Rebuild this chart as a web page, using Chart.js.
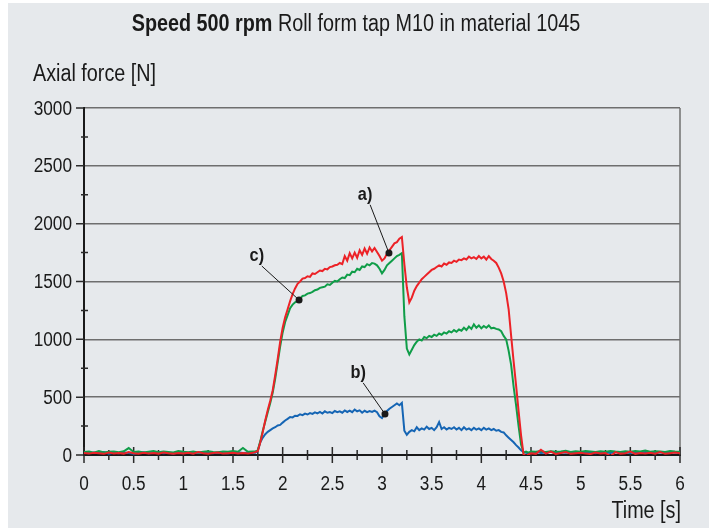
<!DOCTYPE html>
<html lang="en">
<head>
    <meta charset="UTF-8">
    <title>Axial force - roll form tap M10</title>
    <script src="https://cdn.jsdelivr.net/npm/chart.js"></script>
    <style>
        html, body { margin: 0; padding: 0; background: #ffffff; }
        canvas { display: block; }
    </style>
</head>
<body>
    <canvas id="forceChart" width="714" height="531"></canvas>
    <script>
        // time axis [s]
        const time = [
            0, 0.05, 0.1, 0.15, 0.2, 0.25, 0.3, 0.35, 0.4, 0.45, 0.5, 0.55, 0.6, 0.65, 0.7, 0.75, 0.8, 0.85,
            0.9, 0.95, 1, 1.05, 1.1, 1.15, 1.2, 1.25, 1.3, 1.35, 1.4, 1.45, 1.5, 1.55, 1.6, 1.65, 1.7,
            1.725, 1.75, 1.775, 1.8, 1.825, 1.85, 1.875, 1.9, 1.925, 1.95, 1.975,
            2, 2.025, 2.05, 2.075, 2.1, 2.125, 2.15, 2.175, 2.2, 2.225, 2.25, 2.275, 2.3, 2.325, 2.35, 2.375, 2.4, 2.425, 2.45, 2.475,
            2.5, 2.525, 2.55, 2.575, 2.6, 2.625, 2.65, 2.675, 2.7, 2.725, 2.75, 2.775, 2.8, 2.825, 2.85, 2.875, 2.9, 2.925, 2.95, 2.975,
            3, 3.025, 3.05, 3.075, 3.1, 3.125, 3.15, 3.175, 3.2, 3.225, 3.25, 3.275, 3.3, 3.325, 3.35, 3.375, 3.4, 3.425, 3.45, 3.475,
            3.5, 3.525, 3.55, 3.575, 3.6, 3.625, 3.65, 3.675, 3.7, 3.725, 3.75, 3.775, 3.8, 3.825, 3.85, 3.875, 3.9, 3.925, 3.95, 3.975,
            4, 4.025, 4.05, 4.075, 4.1, 4.125, 4.15, 4.175, 4.2, 4.225, 4.25, 4.275, 4.3, 4.325, 4.35, 4.375, 4.4, 4.425, 4.45, 4.475,
            4.5, 4.55, 4.6, 4.65, 4.7, 4.75, 4.8, 4.85, 4.9, 4.95, 5, 5.05, 5.1, 5.15, 5.2, 5.25, 5.3, 5.35,
            5.4, 5.45, 5.5, 5.55, 5.6, 5.65, 5.7, 5.75, 5.8, 5.85, 5.9, 5.95, 6
        ];

        // a) axial force [N]
        const forceA = [
            18, 12, 20, 15, 10, 22, 14, 18, 12, 25, 16, 10, 20, 14, 18, 12, 22, 15,
            10, 18, 14, 20, 12, 25, 15, 10, 18, 22, 12, 16, 20, 14, 18, 12, 20,
            25, 35, 110, 200, 300, 390, 470, 560, 690, 830, 980,
            1100, 1190, 1260, 1330, 1390, 1440, 1480, 1500, 1525, 1530, 1545, 1540, 1570, 1565, 1580, 1595, 1590, 1610, 1605, 1625,
            1630, 1640, 1645, 1660, 1650, 1720, 1680, 1745, 1700, 1750, 1705, 1770, 1730, 1785, 1740, 1795, 1760, 1790, 1755, 1720,
            1680, 1700, 1740, 1770, 1800, 1830, 1840, 1870, 1885, 1650, 1450, 1320, 1360, 1420, 1460, 1490, 1520, 1540, 1560, 1580,
            1600, 1610, 1625, 1640, 1630, 1655, 1645, 1665, 1660, 1680, 1670, 1690, 1685, 1700, 1690, 1715, 1700, 1710, 1695, 1720,
            1700, 1715, 1690, 1720, 1695, 1680, 1660, 1620, 1570, 1500, 1400, 1260, 1030, 810, 600, 380, 170, 5, -10, 5,
            15, 10, 45, 12, 30, 8, 18, 25, 10, 15, 20, 12, 8, 22, 14, 18, -10, 25,
            12, 16, 30, 10, 18, 14, 20, 12, 25, 10, 16, 22, 14
        ];

        // c) axial force [N]
        const forceC = [
            25, 30, 20, 35, 22, 28, 30, 24, 32, 60, 26, 30, 22, 28, 34, 24, 30, 26,
            22, 35, 28, 24, 30, 22, 28, 32, 26, 24, 30, 28, 34, 28, 60, 28, 30,
            30, 40, 120, 210, 290, 370, 450, 540, 660, 800, 940,
            1060, 1150, 1210, 1270, 1300, 1320, 1330, 1350, 1375, 1380, 1395, 1400, 1410, 1425, 1430, 1445, 1450, 1455, 1475, 1470,
            1490, 1505, 1500, 1520, 1535, 1530, 1560, 1555, 1585, 1580, 1610, 1600, 1630, 1625, 1650, 1640, 1660, 1655, 1640, 1610,
            1570, 1600, 1640, 1660, 1680, 1700, 1720, 1730, 1745, 1200, 920, 870, 910, 950, 980, 1000, 990, 1020, 1010, 1030,
            1020, 1040, 1030, 1050, 1040, 1060, 1050, 1070, 1060, 1080, 1065, 1085, 1075, 1100, 1080, 1110, 1090, 1130, 1100, 1120,
            1095, 1115, 1100, 1120, 1095, 1100, 1090, 1085, 1070, 1030, 1000, 900, 780, 590, 430, 250, 90, 20, 30, 20,
            30, 28, 35, 25, 32, 28, 30, 36, 26, 32, 28, 34, 30, 26, 32, 28, 35, 30,
            26, 32, 28, 34, 30, 38, 28, 32, 30, 26, 34, 30, 28
        ];

        // b) axial force [N]
        const forceB = [
            20, 15, 22, 18, 25, 12, 20, 16, 22, 18, 10, 20, 24, 15, 18, 22, 16, 20,
            14, 22, 18, 20, 15, 22, 18, 20, 16, 22, 18, 15, 20, 24, 18, 20, 22,
            20, 40, 110, 150, 180, 200, 215, 230, 240, 255, 260,
            280, 298, 312, 328, 325, 340, 338, 352, 345, 358, 350, 362, 355, 368, 360, 372, 358, 378, 365, 372,
            362, 380, 370, 378, 366, 385, 372, 384, 370, 392, 378, 386, 365, 382, 370, 380, 372, 384, 370, 335,
            320, 355, 380, 400, 415, 430, 445, 430, 450, 210, 175, 200, 215, 205, 240, 215, 230, 220, 245, 225,
            235, 215, 240, 285, 225, 240, 220, 235, 225, 240, 220, 235, 215, 240, 220, 230, 215, 235, 220, 230,
            215, 235, 220, 230, 215, 225, 210, 215, 200, 195, 170, 150, 130, 110, 85, 65, 40, 25, 20, 15,
            20, 25, 18, 22, 28, 15, 24, 20, 26, 18, 22, 25, 20, 16, 24, 22, 18, 26,
            20, 22, 18, 24, 20, 26, 22, 18, 24, 20, 26, 22, 20
        ];

        // marker points and label anchors (time, force)
        const markers = [
            { text: 'a)', lx: 2.83, ly: 2250, px: 3.07, py: 1746 },
            { text: 'b)', lx: 2.76, ly: 710, px: 3.03, py: 354 },
            { text: 'c)', lx: 1.74, ly: 1720, px: 2.165, py: 1340 }
        ];

        const FONT = '"Liberation Sans", Arial, sans-serif';
        const SQUEEZE = 0.86;   // fake the condensed face of the original

        const toPoints = arr => time.map((t, i) => ({ x: t, y: arr[i] }));

        function narrowText(ctx, text, x, y, align, baseline) {
            ctx.save();
            ctx.translate(x, y);
            ctx.scale(SQUEEZE, 1);
            ctx.textAlign = align;
            ctx.textBaseline = baseline;
            ctx.fillText(text, 0, 0);
            ctx.restore();
        }

        const decorPlugin = {
            id: 'decor',
            beforeDraw(chart) {
                const ctx = chart.ctx;
                ctx.save();
                ctx.fillStyle = '#ffffff';
                ctx.fillRect(0, 0, chart.width, chart.height);
                ctx.fillStyle = '#e6e9ec';
                ctx.fillRect(8, 3, 701, 525);

                // title with bold part
                const bold = 'Speed 500 rpm';
                const rest = ' Roll form tap M10 in material 1045';
                ctx.fillStyle = '#1a1a1a';
                ctx.font = 'bold 23px ' + FONT;
                const wb = ctx.measureText(bold).width * SQUEEZE;
                ctx.font = '23px ' + FONT;
                const wr = ctx.measureText(rest).width * SQUEEZE;
                const x0 = 356 - (wb + wr) / 2;
                ctx.font = 'bold 23px ' + FONT;
                narrowText(ctx, bold, x0, 31, 'left', 'alphabetic');
                ctx.font = '23px ' + FONT;
                narrowText(ctx, rest, x0 + wb, 31, 'left', 'alphabetic');

                // axis titles
                narrowText(ctx, 'Axial force [N]', 33, 81, 'left', 'alphabetic');
                narrowText(ctx, 'Time [s]', 681, 518, 'right', 'alphabetic');
                ctx.restore();
            },
            beforeDatasetsDraw(chart) {
                const ctx = chart.ctx;
                const xs = chart.scales.x, ys = chart.scales.y;
                const area = chart.chartArea;
                ctx.save();
                // right frame
                ctx.strokeStyle = '#707070';
                ctx.lineWidth = 1.5;
                ctx.beginPath();
                ctx.moveTo(area.right, area.top);
                ctx.lineTo(area.right, area.bottom);
                ctx.stroke();

                // tick marks
                ctx.strokeStyle = '#2a2a2a';
                ctx.lineWidth = 1.5;
                ctx.beginPath();
                for (let v = 0; v <= 3000; v += 250) {
                    const y = ys.getPixelForValue(v);
                    if (v % 500 === 0) {
                        ctx.moveTo(area.left - 8, y);
                        ctx.lineTo(area.left, y);
                    } else {
                        ctx.moveTo(area.left - 3, y);
                        ctx.lineTo(area.left + 4, y);
                    }
                }
                for (let v = 0; v <= 6; v += 0.25) {
                    const x = xs.getPixelForValue(v);
                    if (Math.round(v * 4) % 2 === 0) {
                        ctx.moveTo(x, area.bottom - 8);
                        ctx.lineTo(x, area.bottom + 8);
                    } else {
                        ctx.moveTo(x, area.bottom - 5);
                        ctx.lineTo(x, area.bottom + 5);
                    }
                }
                ctx.stroke();

                // tick labels from the scales' own ticks
                ctx.fillStyle = '#1a1a1a';
                ctx.font = '20px ' + FONT;
                ys.ticks.forEach(t => {
                    narrowText(ctx, String(t.value), area.left - 12, ys.getPixelForValue(t.value) + 1, 'right', 'middle');
                });
                xs.ticks.forEach(t => {
                    narrowText(ctx, String(t.value), xs.getPixelForValue(t.value), 490, 'center', 'alphabetic');
                });
                ctx.restore();
            },
            afterDatasetsDraw(chart) {
                const ctx = chart.ctx;
                const xs = chart.scales.x, ys = chart.scales.y;
                ctx.save();
                markers.forEach(m => {
                    const lx = xs.getPixelForValue(m.lx), ly = ys.getPixelForValue(m.ly);
                    const px = xs.getPixelForValue(m.px), py = ys.getPixelForValue(m.py);
                    ctx.strokeStyle = '#1a1a1a';
                    ctx.lineWidth = 1;
                    ctx.beginPath();
                    ctx.moveTo(lx + 5, ly + 10);
                    ctx.lineTo(px, py);
                    ctx.stroke();
                    ctx.fillStyle = '#1a1a1a';
                    ctx.beginPath();
                    ctx.arc(px, py, 3.5, 0, Math.PI * 2);
                    ctx.fill();
                    ctx.font = 'bold 19px ' + FONT;
                    narrowText(ctx, m.text, lx, ly, 'center', 'middle');
                });
                ctx.restore();
            }
        };

        const forceChart = new Chart(document.getElementById('forceChart'), {
            type: 'line',
            data: {
                datasets: [
                    { label: 'a)', data: toPoints(forceA), borderColor: '#ec2227', borderWidth: 2 },
                    { label: 'c)', data: toPoints(forceC), borderColor: '#0f9d48', borderWidth: 2 },
                    { label: 'b)', data: toPoints(forceB), borderColor: '#1565b4', borderWidth: 2 }
                ]
            },
            options: {
                responsive: false,
                animation: false,
                elements: { point: { radius: 0 }, line: { tension: 0 } },
                layout: { padding: { top: 108, right: 34, left: 0, bottom: 0 } },
                plugins: { legend: { display: false }, tooltip: { enabled: false } },
                scales: {
                    x: {
                        type: 'linear',
                        min: 0,
                        max: 6,
                        afterFit: s => { s.height = 76; },
                        grid: { display: false },
                        border: { display: true, color: '#1a1a1a', width: 2 },
                        ticks: { stepSize: 0.5, display: false, autoSkip: false }
                    },
                    y: {
                        min: 0,
                        max: 3000,
                        afterFit: s => { s.width = 84; },
                        grid: {
                            drawTicks: false,
                            color: c => (c.tick && c.tick.value === 0) ? 'rgba(0,0,0,0)' : '#6e6e6e',
                            lineWidth: 1.5
                        },
                        border: { display: true, color: '#1a1a1a', width: 2 },
                        ticks: { stepSize: 500, display: false }
                    }
                }
            },
            plugins: [decorPlugin]
        });
    </script>
</body>
</html>
